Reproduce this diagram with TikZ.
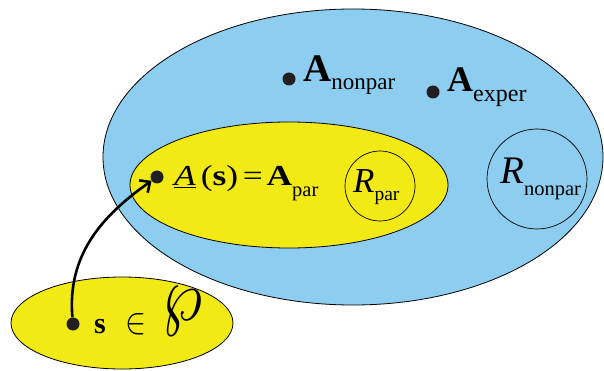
\documentclass[tikz,border=0pt]{standalone}
\usepackage{fontspec}
\setmainfont{Liberation Serif}
\usepackage{graphicx}
\usepackage{tikz}
\usetikzlibrary{
    arrows.meta,
    positioning,
    shapes.geometric
}
\definecolor{setblue}{HTML}{8DCDF0}
\definecolor{setyellow}{HTML}{F2EA14}
\definecolor{dotblack}{HTML}{231F20}

\begin{document}
\begin{tikzpicture}[
    x=1pt, y=-1pt,
    region/.style={ellipse, draw=black, line width=0.8pt, fill=#1, inner sep=0pt},
    ring/.style={circle, draw=black, line width=0.7pt, inner sep=0pt},
    dot/.style={circle, fill=dotblack, inner sep=0pt, minimum size=13pt},
    lbl/.style={anchor=base west, inner sep=0pt},
    link/.style={line width=2.6pt, -{Straight Barb[length=8pt, width=15pt]}},
]
    \useasboundingbox (0,0) rectangle (604,371);

    % Sets
    \node[region=setblue, minimum width=500pt, minimum height=296pt] (univ) at (353,157) {};
    \node[region=setyellow, minimum width=318pt, minimum height=126pt] (parset) at (289,185) {};
    \node[region=setyellow, minimum width=222pt, minimum height=92pt] (sample) at (122,323) {};

    % Radii
    \node[ring, minimum size=70pt] (rpar) at (380,186) {};
    \node[ring, minimum size=100pt] (rnonpar) at (537,179) {};

    % Points
    \node[dot] (anonpar) at (289,79) {};
    \node[dot] (aexper) at (433,92) {};
    \node[dot] (apar) at (157,177) {};
    \node[dot] (sdot) at (73,324) {};

    % Labels in the blue set
    \node[lbl, font=\fontsize{39}{40}\selectfont] (anonparlbl) at (303,82)
        {\textbf{A}\raisebox{-8pt}{\fontsize{23}{24}\selectfont nonpar}};
    \node[lbl, font=\fontsize{36}{38}\selectfont] (aexperlbl) at (447,92)
        {\textbf{A}\raisebox{-10pt}{\fontsize{24}{24}\selectfont exper}};
    \node[lbl, font=\fontsize{39}{40}\selectfont] (rnonparlbl) at (500,184)
        {\textit{R}\raisebox{-12pt}{\fontsize{20.5}{21}\selectfont nonpar}};

    % Labels in the yellow set
    \node[lbl] (aparlbl) at (174,186)
        {\scalebox{1.22}[1]{\fontsize{29}{30}\selectfont\underline{\textit{A}}\kern4pt(\textbf{s})\kern4pt=\kern3pt\textbf{A}}\raisebox{-10pt}{\fontsize{20.5}{21}\selectfont par}};
    \node[lbl, font=\fontsize{35}{36}\selectfont] (rparlbl) at (353,193)
        {\textit{R}\raisebox{-8pt}{\fontsize{19.5}{20}\selectfont par}};

    % Sample
    \node[lbl, font=\fontsize{30}{30}\selectfont] (sname) at (94,333) {\textbf{s}};
    \node[anchor=south west, inner sep=0pt] (insym) at (125,335) {\resizebox{21pt}{20pt}{$\in$}};
    \node[anchor=south west, inner sep=0pt] (wpsym) at (162,336) {\resizebox*{40pt}{48pt}{$\wp$}};

    % Map
    \draw[link] (sdot) to[out=95, in=-145] (apar);

\end{tikzpicture}
\end{document}
